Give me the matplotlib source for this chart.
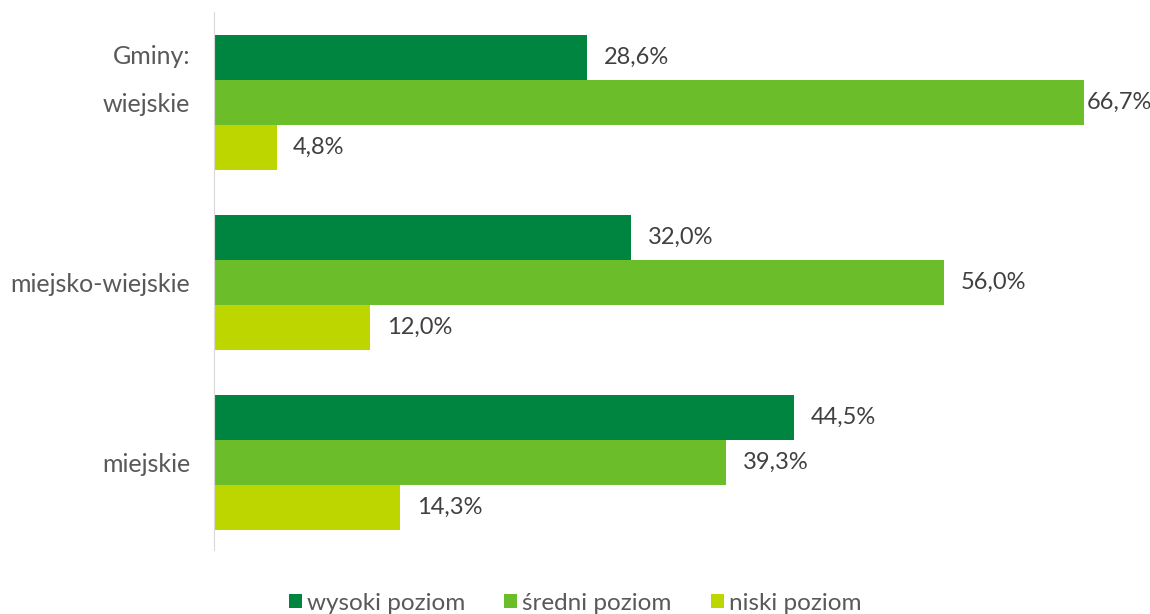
import matplotlib.pyplot as plt
import numpy as np

plt.rcParams['font.family'] = ['Lato', 'DejaVu Sans']

# dane
kategorie = ['wiejskie', 'miejsko-wiejskie', 'miejskie']
wysoki = [28.6, 32.0, 44.5]
sredni = [66.7, 56.0, 39.3]
niski = [4.8, 12.0, 14.3]
serie = ['wysoki poziom', 'średni poziom', 'niski poziom']
kolory = ['#008540', '#6BBE2A', '#BED600']

fig = plt.figure(figsize=(11.5, 6.14), dpi=100)
ax = fig.add_axes([214/1150, 1 - 550/614, 1 - 214/1150, (550 - 12)/614])

y = np.arange(len(kategorie))
h = 0.25
xmax = 71.8
for i, (vals, lab, col) in enumerate(zip([wysoki, sredni, niski], serie, kolory)):
    pos = y + (i - 1) * h
    ax.barh(pos, vals, height=h, color=col, label=lab)
    for p, v in zip(pos, vals):
        txt = f'{v:.1f}%'.replace('.', ',')
        pad = 12 if v < 62 else 2
        ax.annotate(txt, (v, p), xytext=(pad, 0), textcoords='offset points',
                    va='center', ha='left', fontsize=17, color='#404040')

ax.set_xlim(0, xmax)
ax.set_ylim(2 + 88/180, -0.5)
ax.set_yticks(y)
ax.set_yticklabels(kategorie, fontsize=18, color='#595959')
ax.tick_params(axis='y', length=0, pad=17)
ax.set_xticks([])
for s in ['top', 'right', 'bottom']:
    ax.spines[s].set_visible(False)
ax.spines['left'].set_color('#D9D9D9')

ax.text(-24/13.04, -0.25, 'Gminy:', ha='right', va='center', fontsize=18, color='#595959')

fig.legend(loc='center', bbox_to_anchor=(575/1150, 1 - 603/614), ncol=3, frameon=False,
           fontsize=17.5, labelcolor='#595959', handlelength=0.55, handleheight=0.55,
           handletextpad=0.2, columnspacing=1.6)

fig.savefig('out.png', dpi=100)
